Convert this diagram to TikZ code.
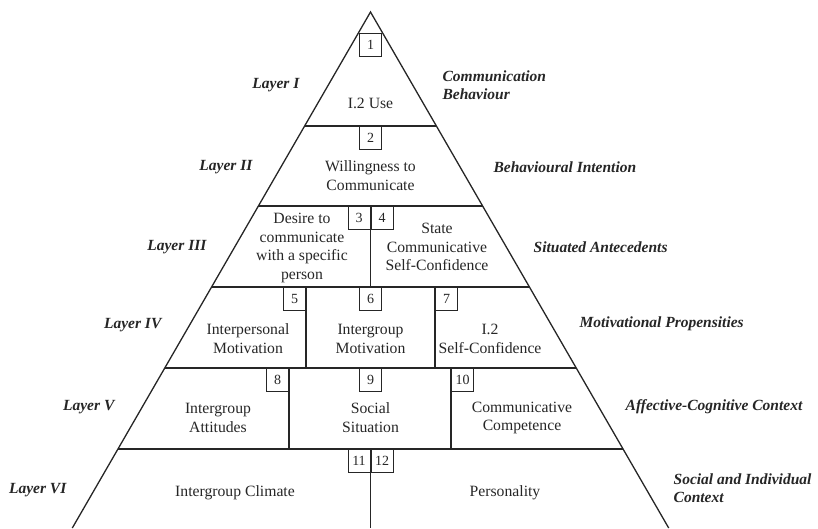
\documentclass[tikz,border=0pt]{standalone}
\usepackage{fontspec}
\setmainfont{Liberation Serif}

\tikzset{
  numero/.style={draw, line width=1pt, minimum width=22pt, minimum height=23pt, inner sep=0pt, font=\fontsize{14}{14}\selectfont},
  texto/.style={align=center, inner sep=0pt, font=\fontsize{15.7}{18.8}\selectfont},
  capa/.style={align=left, inner sep=0pt, font=\fontsize{15.5}{17.5}\selectfont\bfseries\itshape},
}

\begin{document}
\begin{tikzpicture}[x=1pt, y=-1pt, line width=1.3pt, color=black!85]
		\useasboundingbox (0,0) rectangle (818,528);

		% Piramide ----------------------------------------------------------------
		\draw (72.3,528) -- (370.5,12) -- (668.7,528); % lados
		\draw (304.6,126) -- (436.4,126); % capa I
		\draw (258.4,206) -- (482.6,206); % capa II
		\draw (211.5,287) -- (529.5,287); % capa III
		\draw (164.7,368) -- (576.3,368); % capa IV
		\draw (117.9,449) -- (623.1,449); % capa V

		% divisiones verticales
		\draw (370.5,206) -- (370.5,287);
		\draw (306,287) -- (306,368) (435,287) -- (435,368);
		\draw (289,368) -- (289,449) (451,368) -- (451,449);
		\draw (370.5,449) -- (370.5,528);

		% Cajas numeradas ---------------------------------------------------------
		\node[numero, anchor=north] (n1) at (370.5,33) {1};
		\node[numero, anchor=north] (n2) at (370.5,126) {2};
		\node[numero, anchor=north east] (n3) at (370.5,206) {3};
		\node[numero, anchor=north west] (n4) at (370.5,206) {4};
		\node[numero, anchor=north east] (n5) at (306,287) {5};
		\node[numero, anchor=north] (n6) at (370.5,287) {6};
		\node[numero, anchor=north west] (n7) at (435,287) {7};
		\node[numero, anchor=north east] (n8) at (289,368) {8};
		\node[numero, anchor=north] (n9) at (370.5,368) {9};
		\node[numero, anchor=north west] (n10) at (451,368) {10};
		\node[numero, anchor=north east] (n11) at (370.5,449) {11};
		\node[numero, anchor=north west] (n12) at (370.5,449) {12};

		% Textos de cada bloque ---------------------------------------------------
		\node[texto] (uso) at (370.5,103) {I.2 Use};
		\node[texto] (wtc) at (370.5,176) {Willingness to\\Communicate};
		\node[texto] (deseo) at (302,248) {Desire to\\communicate\\with a specific\\person};
		\node[texto] (estado) at (437,247) {State\\Communicative\\Self-Confidence};
		\node[texto] (interp) at (248,339) {Interpersonal\\Motivation};
		\node[texto] (intergm) at (370.5,339) {Intergroup\\Motivation};
		\node[texto] (confianza) at (490,339) {I.2\\Self-Confidence};
		\node[texto] (actitudes) at (218,418) {Intergroup\\Attitudes};
		\node[texto] (situacion) at (370.5,418) {Social\\Situation};
		\node[texto] (competencia) at (522,418) {Communicative\\Competence};
		\node[texto] (clima) at (235,493) {Intergroup Climate};
		\node[texto] (personalidad) at (505,493) {Personality};

		% Nombres de las capas (izquierda) ----------------------------------------
		\node[capa, anchor=east] (c1) at (300,85) {Layer I};
		\node[capa, anchor=east] (c2) at (253,167) {Layer II};
		\node[capa, anchor=east] (c3) at (207,247) {Layer III};
		\node[capa, anchor=east] (c4) at (162,325) {Layer IV};
		\node[capa, anchor=east] (c5) at (115,407) {Layer V};
		\node[capa, anchor=east] (c6) at (67,490) {Layer VI};

		% Descripcion de las capas (derecha) --------------------------------------
		\node[capa, anchor=west] (d1) at (442,85) {Communication\\Behaviour};
		\node[capa, anchor=west] (d2) at (493,167) {Behavioural Intention};
		\node[capa, anchor=west] (d3) at (533,247) {Situated Antecedents};
		\node[capa, anchor=west] (d4) at (579,324) {Motivational Propensities};
		\node[capa, anchor=west] (d5) at (625,407) {Affective-Cognitive Context};
		\node[capa, anchor=west] (d6) at (673,488) {Social and Individual\\Context};
	\end{tikzpicture}
\end{document}
